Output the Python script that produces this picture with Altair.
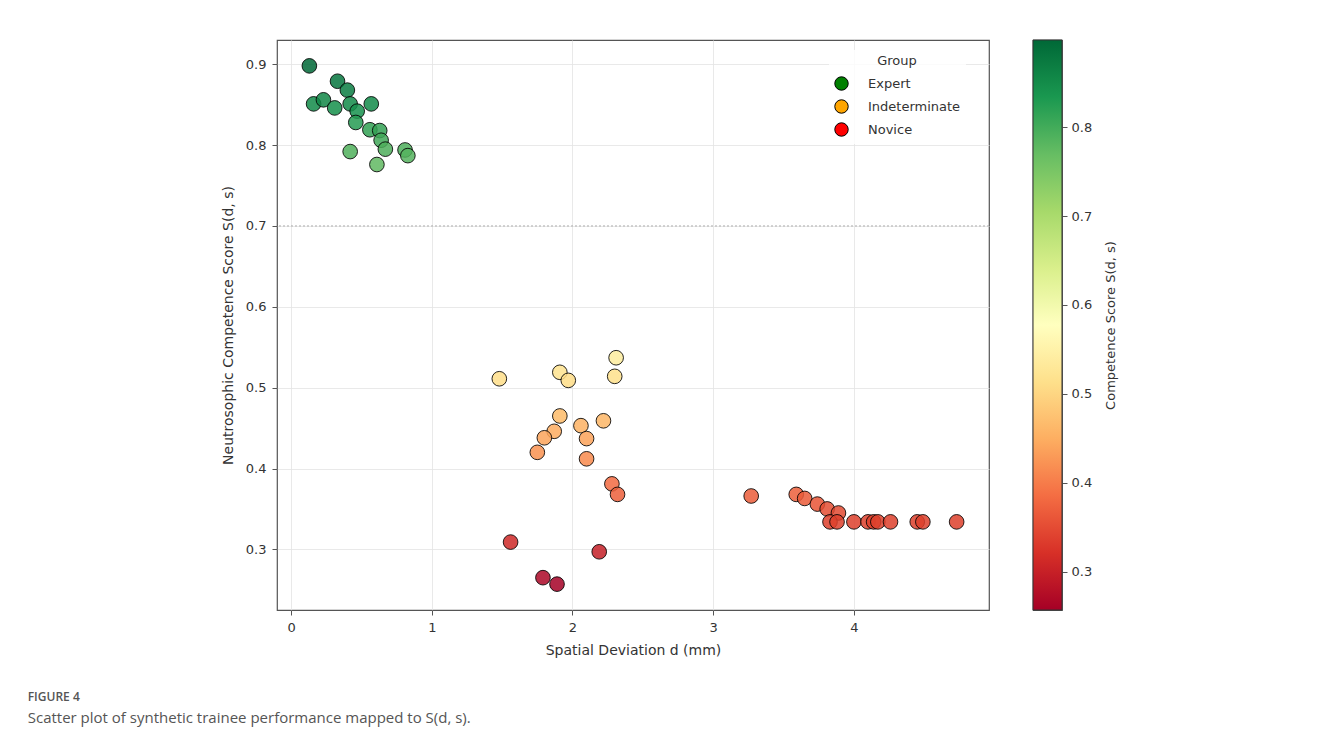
import altair as alt
import pandas as pd
import numpy as np

# ---------------- data ----------------
expert_d = [0.13, 0.33, 0.40, 0.16, 0.23, 0.31, 0.42, 0.47, 0.57, 0.46, 0.56, 0.63, 0.64, 0.67, 0.42, 0.81, 0.83, 0.61]
expert_s = [0.898, 0.879, 0.868, 0.851, 0.856, 0.846, 0.851, 0.842, 0.851, 0.828, 0.819, 0.818, 0.806, 0.795, 0.792, 0.794, 0.787, 0.776]

indet_d = [1.48, 1.91, 1.97, 2.31, 2.30, 1.91, 2.22, 2.06, 1.87, 1.80, 2.10, 1.75, 2.10]
indet_s = [0.511, 0.519, 0.509, 0.537, 0.514, 0.465, 0.459, 0.453, 0.446, 0.438, 0.437, 0.420, 0.412]

novice_d = [2.28, 2.32, 1.56, 2.19, 1.79, 1.89, 3.27, 3.59, 3.65, 3.74, 3.81, 3.89, 3.83, 3.88,
            4.00, 4.10, 4.14, 4.17, 4.26, 4.45, 4.49, 4.73]
novice_s = [0.381, 0.368, 0.309, 0.297, 0.265, 0.257, 0.366, 0.368, 0.363, 0.356, 0.350, 0.345, 0.334, 0.334,
            0.334, 0.334, 0.334, 0.334, 0.334, 0.334, 0.334, 0.334]

groups = ["Expert", "Indeterminate", "Novice"]
group_colors = ["#008000", "#ffa500", "#ff0000"]

x_ticks = [0, 1, 2, 3, 4]
y_ticks = [0.3, 0.4, 0.5, 0.6, 0.7, 0.8, 0.9]
cb_ticks = [0.3, 0.4, 0.5, 0.6, 0.7, 0.8]
threshold = [0.7]

RDYLGN = ["#a50026", "#d73027", "#f46d43", "#fdae61", "#fee08b", "#ffffbf",
          "#d9ef8b", "#a6d96a", "#66bd63", "#1a9850", "#006837"]

# ---------------- tables ----------------
df = pd.DataFrame({
    "d": expert_d + indet_d + novice_d,
    "s": expert_s + indet_s + novice_s,
    "group": ["Expert"] * len(expert_d) + ["Indeterminate"] * len(indet_d) + ["Novice"] * len(novice_d),
})
lo, hi = float(df["s"].min()), float(df["s"].max())
color_domain = list(np.linspace(lo, hi, len(RDYLGN)))

FONT = "DejaVu Sans"
TXT = "#333333"

x_enc = alt.X("d:Q", scale=alt.Scale(domain=[-0.1, 4.96], nice=False, zero=False),
              axis=alt.Axis(values=x_ticks, format="d", title="Spatial Deviation d (mm)",
                            labelPadding=6, titlePadding=9))
y_enc = alt.Y("s:Q", scale=alt.Scale(domain=[0.225, 0.930], nice=False, zero=False),
              axis=alt.Axis(values=y_ticks, format=".1f", title="Neutrosophic Competence Score S(d, s)",
                            labelPadding=6, titlePadding=10))

rule = alt.Chart(pd.DataFrame({"t": threshold})).mark_rule(
    color="#9a9a9a", strokeDash=[2, 2], strokeWidth=0.8
).encode(y=alt.Y("t:Q"))

points = alt.Chart(df).mark_circle(
    size=215, stroke="black", strokeWidth=1, fillOpacity=0.85, strokeOpacity=0.85
).encode(
    x=x_enc, y=y_enc,
    fill=alt.Fill("s:Q", scale=alt.Scale(domain=color_domain, range=RDYLGN), legend=None),
)

legend_layer = alt.Chart(df).transform_filter("false").mark_circle(
    size=180, stroke="black", strokeWidth=1, opacity=1
).encode(
    x="d:Q", y="s:Q",
    color=alt.Color("group:N", scale=alt.Scale(domain=groups, range=group_colors),
                    legend=alt.Legend(title="Group", orient="none", legendX=552, legendY=10,
                                      titleAnchor="middle", titleFontWeight="normal",
                                      titleFontSize=13, labelFontSize=13, titleFont=FONT, labelFont=FONT,
                                      titleColor=TXT, labelColor=TXT,
                                      symbolType="circle", symbolSize=180, symbolStrokeColor="black",
                                      symbolStrokeWidth=1, symbolOpacity=1, labelOffset=19,
                                      rowPadding=4, padding=5, titlePadding=8,
                                      fillColor="rgba(255,255,255,0.8)")),
)

main = alt.layer(rule, points, legend_layer).properties(width=712, height=570)

cb_df = pd.DataFrame({"lo": [lo], "hi": [hi]})
colorbar = alt.Chart(cb_df).mark_rect(
    fill=alt.LinearGradient(
        gradient="linear",
        stops=[alt.GradientStop(color=c, offset=i / (len(RDYLGN) - 1)) for i, c in enumerate(RDYLGN)],
        x1=0, x2=0, y1=1, y2=0),
    stroke="#333333", strokeWidth=1,
).encode(
    y=alt.Y("lo:Q", scale=alt.Scale(domain=[lo, hi], nice=False, zero=False),
            axis=alt.Axis(orient="right", values=cb_ticks, format=".1f", grid=False,
                          title="Competence Score S(d, s)", titleAngle=270, titlePadding=26,
                          labelPadding=4, titleFontSize=13)),
    y2="hi:Q",
    x=alt.value(0), x2=alt.value(29),
).properties(width=29, height=570)

chart = alt.hconcat(main, colorbar, spacing=41).resolve_scale(
    color="independent", fill="independent", y="independent"
).properties(
    padding={"left": 19, "top": 30, "right": 5, "bottom": 5},
    title=alt.TitleParams(
        text="FIGURE 4",
        subtitle="Scatter plot of synthetic trainee performance mapped to S(d, s).",
        orient="bottom", anchor="start", dx=-193, offset=34,
        font="Open Sans", fontSize=12, fontWeight=600, color="#555555",
        subtitleFont="Open Sans", subtitleFontSize=15, subtitleColor="#555555", subtitlePadding=7,
    ),
).configure_view(
    stroke="#555555", strokeWidth=1.2
).configure_axis(
    labelFont=FONT, titleFont=FONT, labelFontSize=13, titleFontSize=14,
    labelColor=TXT, titleColor=TXT, titleFontWeight="normal",
    domain=False, tickColor="#555555", tickSize=5,
    gridColor="#e3e3e3", gridWidth=0.8,
)

chart.save("out.html", embed_options={"renderer": "svg", "actions": False})
